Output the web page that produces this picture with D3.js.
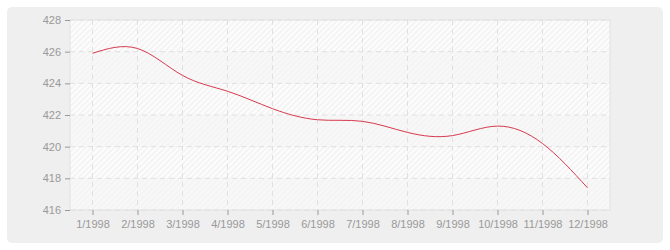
<html>
<head>
<script src="https://d3js.org/d3.v7.min.js"></script>
<style>
  body { margin: 0; background: #fff; }
  text { font-family: "Liberation Sans", Arial, sans-serif; font-size: 11px; fill: #999; }
</style>
</head>
<body>
<svg id="chart" width="670" height="250"></svg>
<script>
// values
const months = ["1/1998", "2/1998", "3/1998", "4/1998", "5/1998", "6/1998",
                "7/1998", "8/1998", "9/1998", "10/1998", "11/1998", "12/1998"];
const values = [425.9, 426.2, 424.5, 423.5, 422.4, 421.7, 421.6, 420.9, 420.7, 421.3, 420.2, 417.4];
const yTicks = [416, 418, 420, 422, 424, 426, 428];

const svg = d3.select("svg#chart");
const mLeft = 70, mRight = 610, mTop = 20, mBottom = 210;

// outer panel
svg.append("rect")
    .attr("x", 7).attr("y", 7).attr("width", 656).attr("height", 236)
    .attr("rx", 5).style("fill", "#efefef");

const x = d3.scaleLinear().domain([0.5, 12.5]).range([mLeft, mRight]);
const y = d3.scaleLinear().domain([416, 428]).range([mBottom, mTop]);

// hatch patterns, one stronger and one fainter
const defs = svg.append("defs");
function hatch(id, bg, fg) {
    const p = defs.append("pattern")
        .attr("id", id).attr("width", 4).attr("height", 4)
        .attr("patternUnits", "userSpaceOnUse")
        .attr("patternTransform", "rotate(45)");
    p.append("rect").attr("width", 4).attr("height", 4).style("fill", bg);
    p.append("line").attr("x1", 1).attr("y1", 0).attr("x2", 1).attr("y2", 4)
        .style("stroke", fg).style("stroke-width", 1);
}
hatch("hatchA", "#fdfdfd", "#ebebeb");
hatch("hatchB", "#f8f8f8", "#f0f0f0");

// alternating bands (top band is the stronger one)
for (let i = 0; i < yTicks.length - 1; i++) {
    svg.append("rect")
        .attr("x", mLeft).attr("y", y(yTicks[i + 1]))
        .attr("width", mRight - mLeft).attr("height", y(yTicks[i]) - y(yTicks[i + 1]))
        .style("fill", i % 2 === 1 ? "url(#hatchA)" : "url(#hatchB)");
}

// grid
svg.selectAll(".hgrid").data(yTicks).join("line")
    .attr("x1", mLeft).attr("x2", mRight)
    .attr("y1", d => y(d)).attr("y2", d => y(d))
    .style("stroke", "#e0e0e0").style("stroke-dasharray", "5,4");
svg.selectAll(".vgrid").data(months).join("line")
    .attr("x1", (d, i) => x(i + 1)).attr("x2", (d, i) => x(i + 1))
    .attr("y1", mTop).attr("y2", mBottom)
    .style("stroke", "#e0e0e0").style("stroke-dasharray", "5,4");

// plot border
svg.append("rect")
    .attr("x", mLeft).attr("y", mTop).attr("width", mRight - mLeft).attr("height", mBottom - mTop)
    .style("fill", "none").style("stroke", "#e2e2e2");

// axes
const yAxis = svg.append("g").attr("transform", `translate(${mLeft},0)`)
    .call(d3.axisLeft(y).tickValues(yTicks).tickSize(5).tickPadding(4).tickFormat(d3.format("d")));
const xAxis = svg.append("g").attr("transform", `translate(0,${mBottom})`)
    .call(d3.axisBottom(x).tickValues(d3.range(1, 13)).tickSize(5).tickPadding(5)
        .tickFormat(d => months[d - 1]));
[yAxis, xAxis].forEach(a => {
    a.select(".domain").remove();
    a.selectAll(".tick line").style("stroke", "#999");
    a.selectAll("text").style("fill", "#999").style("font-size", "11px")
        .style("font-family", "'Liberation Sans', Arial, sans-serif");
});

// line
const line = d3.line()
    .x((d, i) => x(i + 1))
    .y(d => y(d))
    .curve(d3.curveNatural);
svg.append("path").datum(values)
    .attr("d", line)
    .style("fill", "none").style("stroke", "#d63a4e").style("stroke-width", 1);
</script>
</body>
</html>
